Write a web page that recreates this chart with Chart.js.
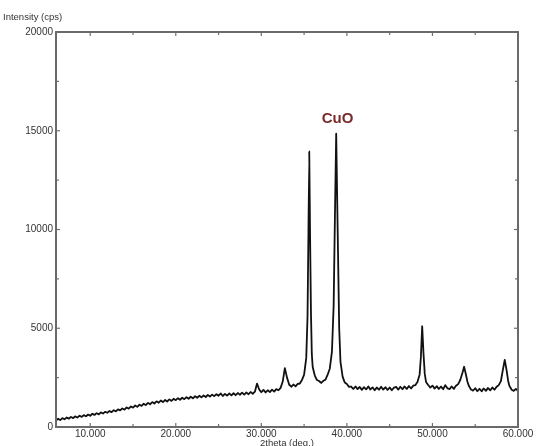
<!DOCTYPE html>
<html>
<head>
<meta charset="utf-8">
<title>XRD CuO</title>
<script src="https://cdn.jsdelivr.net/npm/chart.js@4.4.1/dist/chart.umd.min.js"></script>
<style>
  body { margin: 0; background: #fff; }
  #wrap { width: 536px; height: 446px; position: relative; }
</style>
</head>
<body>
<div id="wrap"><canvas id="xrdChart"></canvas></div>
<script>
// 2theta positions (deg.)
const twoTheta = [
  6.00, 6.25, 6.50, 6.75, 7.00, 7.25, 7.50, 7.75, 8.00, 8.25, 8.50, 8.75, 9.00, 9.25, 9.50, 9.75,
  10.00, 10.25, 10.50, 10.75, 11.00, 11.25, 11.50, 11.75, 12.00, 12.25, 12.50, 12.75, 13.00, 13.25, 13.50, 13.75,
  14.00, 14.25, 14.50, 14.75, 15.00, 15.25, 15.50, 15.75, 16.00, 16.25, 16.50, 16.75, 17.00, 17.25, 17.50, 17.75,
  18.00, 18.25, 18.50, 18.75, 19.00, 19.25, 19.50, 19.75, 20.00, 20.25, 20.50, 20.75, 21.00, 21.25, 21.50, 21.75,
  22.00, 22.25, 22.50, 22.75, 23.00, 23.25, 23.50, 23.75, 24.00, 24.25, 24.50, 24.75, 25.00, 25.25, 25.50, 25.75,
  26.00, 26.25, 26.50, 26.75, 27.00, 27.25, 27.50, 27.75, 28.00, 28.25, 28.50, 28.75, 29.00, 29.25, 29.50, 29.75,
  30.00, 30.25, 30.50, 30.75, 31.00, 31.25, 31.50, 31.75, 32.00, 32.25, 32.50, 32.75, 33.00, 33.25, 33.50, 33.75,
  34.00, 34.25, 34.50, 34.75, 35.00, 35.25, 35.40, 35.50, 35.60, 35.70, 35.80, 35.90, 36.00, 36.25, 36.50, 36.75,
  37.00, 37.25, 37.50, 37.75, 38.00, 38.25, 38.45, 38.60, 38.75, 38.85, 38.95, 39.10, 39.25, 39.50, 39.75,
  40.00, 40.25, 40.50, 40.75, 41.00, 41.25, 41.50, 41.75, 42.00, 42.25, 42.50, 42.75, 43.00, 43.25, 43.50, 43.75,
  44.00, 44.25, 44.50, 44.75, 45.00, 45.25, 45.50, 45.75, 46.00, 46.25, 46.50, 46.75, 47.00, 47.25, 47.50, 47.75,
  48.00, 48.25, 48.50, 48.65, 48.80, 48.95, 49.10, 49.25, 49.50, 49.75,
  50.00, 50.25, 50.50, 50.75, 51.00, 51.25, 51.50, 51.75, 52.00, 52.25, 52.50, 52.75, 53.00, 53.25, 53.50, 53.70,
  53.90, 54.10, 54.25, 54.50, 54.75, 55.00, 55.25, 55.50, 55.75, 56.00, 56.25, 56.50, 56.75, 57.00, 57.25, 57.50,
  57.75, 58.00, 58.20, 58.45, 58.65, 58.85, 59.00, 59.25, 59.50, 59.75, 60.00
];

// Intensity (cps)
const intensity = [
  330, 420, 350, 450, 390, 480, 420, 510, 450, 540, 480, 570, 510, 600, 540, 630,
  570, 670, 610, 700, 640, 740, 680, 770, 720, 810, 750, 850, 790, 890, 840, 940,
  880, 990, 930, 1040, 980, 1090, 1020, 1130, 1070, 1180, 1110, 1220, 1150, 1260, 1190, 1300,
  1230, 1340, 1260, 1370, 1290, 1400, 1320, 1430, 1360, 1460, 1380, 1480, 1410, 1510, 1430, 1530,
  1450, 1560, 1480, 1580, 1500, 1600, 1520, 1620, 1540, 1640, 1560, 1660, 1580, 1700, 1570, 1680,
  1590, 1700, 1600, 1710, 1610, 1720, 1630, 1740, 1640, 1750, 1660, 1770, 1680, 1790, 2200, 1900,
  1760, 1880, 1750, 1860, 1770, 1890, 1790, 1920, 1860, 1980, 2300, 2980, 2500, 2150, 2030, 2150,
  2060, 2180, 2200, 2380, 2650, 3500, 5600, 9600, 13950, 9600, 5800, 3700, 3050, 2600, 2380, 2330,
  2230, 2340, 2400, 2650, 2950, 3800, 6100, 10600, 14850, 12000, 9200, 5000, 3300, 2550, 2250,
  2180, 2030, 2050, 1920, 2060, 1920, 2030, 1880, 2020, 1900, 2060, 1890, 2010, 1860, 2000, 1880,
  2040, 1890, 2020, 1870, 2000, 1860, 1990, 2030, 1890, 2040, 1910, 2060, 1920, 2080, 1950, 2090,
  2120, 2280, 2650, 3550, 5100, 3750, 2700, 2280, 2130, 1990,
  2100, 1940, 2070, 1920, 2050, 1910, 2120, 1960, 1920, 2060, 1930, 2090, 2170, 2380, 2730, 3050,
  2680, 2280, 2090, 1900, 1840, 1970, 1810, 1940, 1800, 1960, 1830, 1980, 1850, 2000, 1880, 2040,
  2120, 2320, 2820, 3400, 2920, 2330, 2080, 1890, 1830, 1930, 1820
];

const xTickValues = [10, 20, 30, 40, 50, 60];
const xMinorValues = [15, 25, 35, 45, 55];
const yTickValues = [0, 5000, 10000, 15000, 20000];
const yMinorValues = [2500, 7500, 12500, 17500];

const peakLabel = 'CuO';
const peakLabelAt = [38.9, 15600];

// frame, inward ticks and text labels
const framePlugin = {
  id: 'framePlugin',
  afterDraw(chart) {
    const ctx = chart.ctx;
    const a = chart.chartArea;
    const xs = chart.scales.x;
    const ys = chart.scales.y;
    ctx.save();

    ctx.strokeStyle = '#707070';
    ctx.lineWidth = 1.2;
    const tick = function(x1, y1, x2, y2) {
      ctx.beginPath();
      ctx.moveTo(x1, y1);
      ctx.lineTo(x2, y2);
      ctx.stroke();
    };
    xTickValues.forEach(function(v) {
      const px = xs.getPixelForValue(v);
      tick(px, a.bottom, px, a.bottom - 4);
      tick(px, a.top, px, a.top + 4);
    });
    xMinorValues.forEach(function(v) {
      const px = xs.getPixelForValue(v);
      tick(px, a.bottom, px, a.bottom - 3);
      tick(px, a.top, px, a.top + 3);
    });
    yTickValues.forEach(function(v) {
      const py = ys.getPixelForValue(v);
      tick(a.left, py, a.left + 4, py);
      tick(a.right, py, a.right - 4, py);
    });
    yMinorValues.forEach(function(v) {
      const py = ys.getPixelForValue(v);
      tick(a.left, py, a.left + 3, py);
      tick(a.right, py, a.right - 3, py);
    });

    ctx.strokeStyle = '#6a6a6a';
    ctx.lineWidth = 2;
    ctx.strokeRect(a.left, a.top, a.right - a.left, a.bottom - a.top);

    // axis titles
    ctx.fillStyle = '#333';
    ctx.font = '9.5px "Liberation Sans", Arial, sans-serif';
    ctx.textBaseline = 'middle';
    ctx.textAlign = 'left';
    ctx.fillText('Intensity (cps)', 3, 17);
    ctx.textAlign = 'center';
    ctx.fillText('2theta (deg.)', (a.left + a.right) / 2, 443);

    // peak annotation
    ctx.fillStyle = '#7a2a2a';
    ctx.font = 'bold 15px "Liberation Sans", Arial, sans-serif';
    ctx.fillText(peakLabel, xs.getPixelForValue(peakLabelAt[0]), ys.getPixelForValue(peakLabelAt[1]));
    ctx.restore();
  }
};

const points = twoTheta.map(function(t, i) {
  return { x: t, y: intensity[i] };
});

new Chart(document.getElementById('xrdChart'), {
  type: 'line',
  data: {
    datasets: [{
      data: points,
      borderColor: '#111',
      borderWidth: 1.8,
      borderJoinStyle: 'round',
      pointRadius: 0,
      // tiny tension keeps segments straight but avoids the merged-pixel fast path
      tension: 0.001,
      fill: false
    }]
  },
  options: {
    responsive: true,
    maintainAspectRatio: false,
    animation: false,
    layout: { padding: { top: 32, right: 18, left: 0, bottom: 0 } },
    plugins: {
      legend: { display: false },
      tooltip: { enabled: false }
    },
    scales: {
      x: {
        type: 'linear',
        min: 6,
        max: 60,
        afterBuildTicks: function(scale) {
          scale.ticks = xTickValues.map(function(v) { return { value: v }; });
        },
        afterFit: function(scale) { scale.height = 19; },
        grid: { display: false, drawTicks: false },
        border: { display: false },
        ticks: {
          autoSkip: false,
          maxRotation: 0,
          padding: 1,
          color: '#333',
          font: { family: '"Liberation Sans", Arial, sans-serif', size: 10 },
          callback: function(value) { return Number(value).toFixed(3); }
        }
      },
      y: {
        min: 0,
        max: 20000,
        afterBuildTicks: function(scale) {
          scale.ticks = yTickValues.map(function(v) { return { value: v }; });
        },
        afterFit: function(scale) { scale.width = 56; },
        grid: { display: false, drawTicks: false },
        border: { display: false },
        ticks: {
          padding: 3,
          color: '#333',
          font: { family: '"Liberation Sans", Arial, sans-serif', size: 10 },
          callback: function(value) { return String(value); }
        }
      }
    }
  },
  plugins: [framePlugin]
});
</script>
</body>
</html>
